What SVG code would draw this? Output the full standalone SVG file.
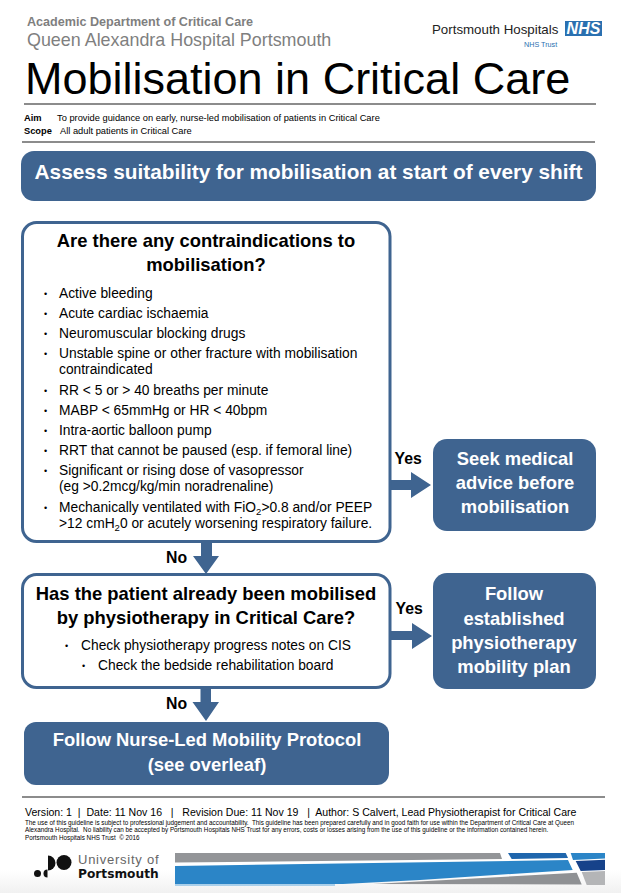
<svg xmlns="http://www.w3.org/2000/svg" width="621" height="893" viewBox="0 0 621 893">
<defs><linearGradient id="fade" x1="0" y1="0" x2="0" y2="1"><stop offset="0" stop-color="#fff"/><stop offset="1" stop-color="#f1f1f1"/></linearGradient></defs>
<style>
text{font-family:"Liberation Sans",Arial,sans-serif;fill:#000}
.hd{fill:#7f7f7f}
.rule{stroke:#8c8c8c;stroke-width:2;fill:none}
.blue{fill:#3f6490}
.box{fill:#fff;stroke:#3f6490;stroke-width:3}
.w{fill:#fff;font-weight:bold;font-size:18.4px;text-anchor:middle}
.q{font-weight:bold;font-size:18.4px;text-anchor:middle}
.li{font-size:13.8px}
.bu{font-size:9px}
.lb{font-weight:bold;font-size:15.8px}
.sm{font-size:6.3px;font-weight:normal}
.aim{font-size:9.3px}
</style>
<rect width="621" height="893" fill="#fff"/>
<rect y="870" width="621" height="23" fill="url(#fade)"/>
<g id="header">
<text class="hd" x="27" y="26" font-size="12.600" font-weight="bold">Academic Department of Critical Care</text>
<text class="hd" x="27" y="46" font-size="17.900">Queen Alexandra Hospital Portsmouth</text>
<text x="432" y="34" font-size="13.300" style="fill:#222">Portsmouth Hospitals</text>
<rect x="565" y="21" width="37" height="15" fill="#2a70b0"/>
<text x="583.500" y="34" font-size="16" font-weight="bold" font-style="italic" text-anchor="middle" style="fill:#fff">NHS</text>
<text x="524" y="47" font-size="7.200" style="fill:#2a70b0">NHS Trust</text>
<text x="25" y="94" font-size="45">Mobilisation in Critical Care</text>
<line class="rule" x1="24" y1="104" x2="596" y2="104"/>
<text class="aim" x="24" y="121" font-weight="bold">Aim</text>
<text class="aim" x="57" y="121">To provide guidance on early, nurse-led mobilisation of patients in Critical Care</text>
<text class="aim" x="24" y="134" font-weight="bold">Scope</text>
<text class="aim" x="60" y="134">All adult patients in Critical Care</text>
<line class="rule" x1="22" y1="142" x2="595" y2="142"/>
</g>
<g id="connectors">
<path id="yes1" class="blue" d="M390 480H411V472L431 485L411 498V490H390Z"/>
<path id="no1" class="blue" d="M201 542H212V556H219L206 574L193 556H201Z"/>
<path id="yes2" class="blue" d="M388 631H412V623L432 636L412 649V640H388Z"/>
<path id="no2" class="blue" d="M200.500 688H211V702H219L206 721L192.500 702H200.500Z"/>
</g>
<g id="n-assess">
<rect class="blue" x="21" y="151" width="575" height="50" rx="13"/>
<text class="w" x="308.500" y="179" style="font-size:20.800px">Assess suitability for mobilisation at start of every shift</text>
</g>
<g id="n-contra">
<rect class="box" x="22.500" y="222.500" width="367.500" height="319" rx="14"/>
<text class="q" x="206" y="247">Are there any contraindications to</text>
<text class="q" x="206" y="271">mobilisation?</text>
<g class="li">
<text class="bu" x="44" y="297">•</text><text x="59" y="298">Active bleeding</text>
<text class="bu" x="44" y="317">•</text><text x="59" y="318">Acute cardiac ischaemia</text>
<text class="bu" x="44" y="337">•</text><text x="59" y="338">Neuromuscular blocking drugs</text>
<text class="bu" x="44" y="357">•</text><text x="59" y="358">Unstable spine or other fracture with mobilisation</text>
<text x="59" y="374">contraindicated</text>
<text class="bu" x="44" y="394">•</text><text x="59" y="395">RR &lt; 5 or &gt; 40 breaths per minute</text>
<text class="bu" x="44" y="414">•</text><text x="59" y="415">MABP &lt; 65mmHg or HR &lt; 40bpm</text>
<text class="bu" x="44" y="434">•</text><text x="59" y="435">Intra-aortic balloon pump</text>
<text class="bu" x="44" y="454">•</text><text x="59" y="455">RRT that cannot be paused (esp. if femoral line)</text>
<text class="bu" x="44" y="474">•</text><text x="59" y="475">Significant or rising dose of vasopressor</text>
<text x="59" y="491">(eg &gt;0.2mcg/kg/min noradrenaline)</text>
<text class="bu" x="44" y="511">•</text><text x="59" y="512">Mechanically ventilated with FiO<tspan font-size="9.500" dy="3">2</tspan><tspan dy="-3">&gt;0.8 and/or PEEP</tspan></text>
<text x="59" y="528">&gt;12 cmH<tspan font-size="9.500" dy="3">2</tspan><tspan dy="-3">0 or acutely worsening respiratory failure.</tspan></text>
</g>
</g>
<g id="n-physio">
<rect class="box" x="22.500" y="574.500" width="367.500" height="113" rx="14"/>
<text class="q" x="206" y="600">Has the patient already been mobilised</text>
<text class="q" x="206" y="624">by physiotherapy in Critical Care?</text>
<text class="bu" x="65" y="649">•</text><text class="li" x="81" y="650">Check physiotherapy progress notes on CIS</text>
<text class="bu" x="82" y="669">•</text><text class="li" x="98" y="670">Check the bedside rehabilitation board</text>
</g>
<g id="n-seek">
<rect class="blue" x="433" y="439" width="163" height="92" rx="14"/>
<text class="w" x="515" y="465">Seek medical</text>
<text class="w" x="515" y="489">advice before</text>
<text class="w" x="515" y="513">mobilisation</text>
</g>
<g id="n-plan">
<rect class="blue" x="433" y="573" width="163" height="116" rx="14"/>
<text class="w" x="514" y="600">Follow</text>
<text class="w" x="514" y="625">established</text>
<text class="w" x="514" y="649">physiotherapy</text>
<text class="w" x="514" y="673">mobility plan</text>
</g>
<g id="n-protocol">
<rect class="blue" x="24" y="722" width="365" height="63" rx="12"/>
<text class="w" x="207" y="746">Follow Nurse-Led Mobility Protocol</text>
<text class="w" x="207" y="771">(see overleaf)</text>
</g>
<g id="labels">
<text class="lb" x="394.500" y="464">Yes</text>
<text class="lb" x="166" y="563">No</text>
<text class="lb" x="395.500" y="614">Yes</text>
<text class="lb" x="166" y="709">No</text>
</g>
<g id="footer">
<line class="rule" x1="22" y1="797" x2="605" y2="797"/>
<text x="25" y="816" font-size="10.570" style="white-space:pre">Version: 1  |  Date: 11 Nov 16   |   Revision Due: 11 Nov 19   |  Author: S Calvert, Lead Physiotherapist for Critical Care</text>
<text class="sm" x="25" y="824.500" style="white-space:pre">The use of this guideline is subject to professional judgement and accountability.  This guideline has been prepared carefully and in good faith for use within the Department of Critical Care at Queen</text>
<text class="sm" x="25" y="832" style="white-space:pre">Alexandra Hospital.  No liability can be accepted by Portsmouth Hospitals NHS Trust for any errors, costs or losses arising from the use of this guideline or the information contained herein.</text>
<text class="sm" x="25" y="840" style="white-space:pre">Portsmouth Hospitals NHS Trust  © 2016</text>
</g>
<g id="logo">
<circle cx="37.500" cy="873.500" r="3.500" fill="#111"/>
<path d="M47.500 869.500V877.500A4 4 0 0 1 47.500 869.500Z" fill="#111"/>
<path d="M48 855.500A7.500 7.500 0 0 1 48 870.500Z" fill="#111"/>
<circle cx="64" cy="862.500" r="7.500" fill="#111"/>
<text x="78" y="864" font-size="13" letter-spacing=".75" style="fill:#666">University of</text>
<text x="78" y="878" font-size="12.200" font-weight="bold" style="font-family:'DejaVu Sans',sans-serif;fill:#111">Portsmouth</text>
</g>
<g id="banner">
<path d="M175 853H500L502 859L175 862.500Z" fill="#939598"/>
<path d="M175 866L568 860L572.700 870L420 880L343 884H175Z" fill="#2b85c7"/>
<rect x="175" y="884" width="160" height="2" fill="#a9cfea"/>
<path d="M373 884L576.700 872.700L581.700 884.500Z" fill="#8f9194"/>
<path d="M508 853H565.700L568 858L511.700 859Z" fill="#1f66ad"/>
<path d="M570.700 853H605V858.500L573 860Z" fill="#2b85c7"/>
<path d="M575.700 861L605 859.700V870L580.700 871Z" fill="#16428a"/>
<path d="M581.700 872L605 871V885H586.700Z" fill="#b4b5b7"/>
</g>
</svg>
